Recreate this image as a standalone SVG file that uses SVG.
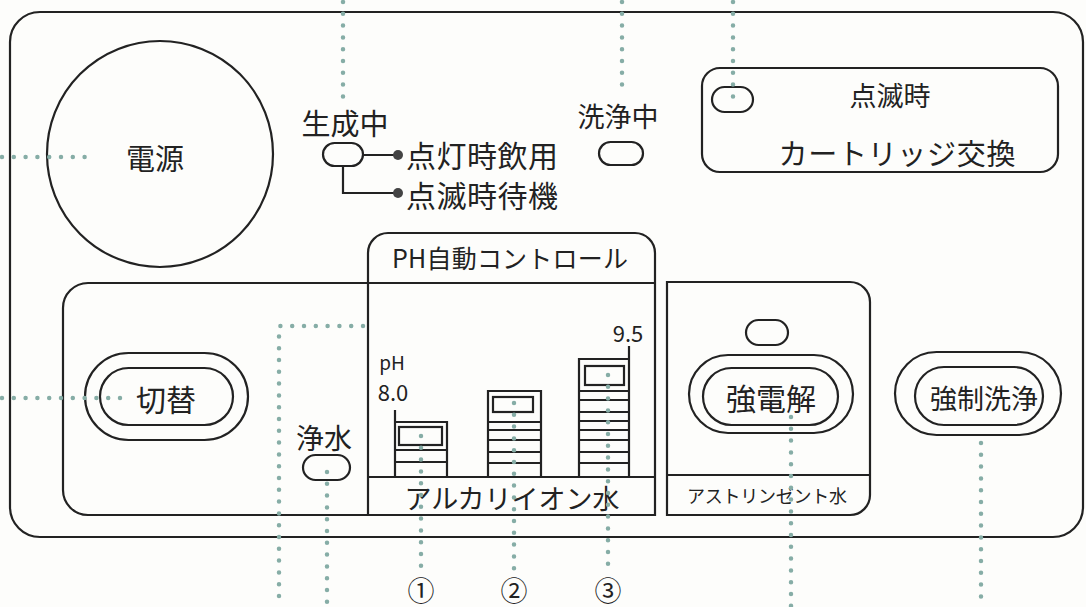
<svg xmlns="http://www.w3.org/2000/svg" width="1086" height="607" viewBox="0 0 1086 607">
<style>
.ln{fill:none;stroke:#222;stroke-width:2.2}
.dot{fill:none;stroke:#86ada6;stroke-width:4.5;stroke-linecap:round;stroke-dasharray:0 11.8}
.t{font-family:"Noto Sans CJK JP","Noto Sans",sans-serif;fill:#222;dominant-baseline:central}
.n{font-family:"Noto Sans CJK JP","Noto Sans",sans-serif;fill:#222;text-anchor:middle;dominant-baseline:central}
</style>
<rect width="1086" height="607" fill="#fdfdfb"/>
<g id="panel">
<rect class="ln" x="10" y="12" width="1073" height="525" rx="30"/>
</g>
<g id="power">
<circle class="ln" cx="160" cy="154" r="113"/>
<text class="n" x="155" y="157" font-size="29">電源</text>
</g>
<g id="seisei">
<text class="n" x="345" y="122" font-size="29">生成中</text>
<rect class="ln" x="323" y="143" width="40" height="23" rx="11.5"/>
<path class="ln" d="M363,155 H397 M343,166 V193 H397" stroke-width="1.6"/>
<circle cx="398" cy="155" r="5" fill="#444"/>
<circle cx="398" cy="193" r="5" fill="#444"/>
<text class="t" x="406" y="154" font-size="30" textLength="152">点灯時飲用</text>
<text class="t" x="406" y="194" font-size="30" textLength="152">点滅時待機</text>
</g>
<g id="senjo">
<text class="n" x="618" y="115" font-size="27">洗浄中</text>
<rect class="ln" x="599" y="142" width="44" height="23" rx="11.5"/>
</g>
<g id="cartridge">
<rect class="ln" x="702" y="68" width="356" height="104" rx="18"/>
<rect class="ln" x="712" y="87" width="41" height="25" rx="12.5"/>
<text class="n" x="890" y="94" font-size="27">点滅時</text>
<text class="n" x="897" y="152" font-size="29" textLength="237">カートリッジ交換</text>
</g>
<g id="inner-panel">
<path class="ln" d="M368,283 H88 A25,25 0 0 0 63,308 V490 A25,25 0 0 0 88,515 H368"/>
</g>
<g id="kirikae">
<rect class="ln" x="85" y="353" width="163" height="87" rx="43.5"/>
<rect class="ln" x="100" y="368" width="133" height="57" rx="28.5"/>
<text class="n" x="166" y="398" font-size="30">切替</text>
</g>
<g id="josui">
<text class="n" x="324" y="437" font-size="28">浄水</text>
<rect class="ln" x="303" y="455" width="47" height="25" rx="12.5"/>
</g>
<g id="ph-control">
<path class="ln" d="M368,515 V253 A20,20 0 0 1 388,233 H635 A20,20 0 0 1 655,253 V515 H368 M368,283 H655 M368,477 H655"/>
<text class="n" x="510" y="257" font-size="25" textLength="236">PH自動コントロール</text>
<text class="n" x="512" y="497" font-size="27" textLength="215">アルカリイオン水</text>
<text class="n" x="392" y="361" font-size="19">pH</text>
<text class="n" x="393" y="391" font-size="22">8.0</text>
<text class="n" x="628" y="332" font-size="22">9.5</text>
</g>
<g id="bar1">
<path class="ln" d="M395,410 V477 M395,422 H447 V477 M395,450 H447 M395,462 H447"/>
<rect class="ln" x="399" y="427" width="43" height="18"/>
</g>
<g id="bar2">
<path class="ln" d="M488,477 V391 H541 V477 M488,422 H541 M488,430 H541 M488,440 H541 M488,452 H541 M488,463 H541"/>
<rect class="ln" x="493" y="397" width="40" height="15"/>
</g>
<g id="bar3">
<path class="ln" d="M579,477 V359 H629 V477 M629,346 V359 M579,391 H629 M579,400 H629 M579,412 H629 M579,421 H629 M579,430 H629 M579,440 H629 M579,452 H629 M579,463 H629"/>
<rect class="ln" x="585" y="366" width="39" height="19"/>
</g>
<g id="astringent">
<path class="ln" d="M667,282 H850 A20,20 0 0 1 870,302 V495 A20,20 0 0 1 850,515 H667 Z M667,475 H870"/>
<rect class="ln" x="746" y="320" width="42" height="25" rx="12.5"/>
<rect class="ln" x="689" y="355" width="164" height="78" rx="39"/>
<rect class="ln" x="703" y="368" width="135" height="57" rx="28.5"/>
<text class="n" x="771" y="397" font-size="30">強電解</text>
<text class="n" x="767" y="495" font-size="18" textLength="160">アストリンゼント水</text>
</g>
<g id="kyosei">
<rect class="ln" x="895" y="352" width="166" height="83" rx="41.5"/>
<rect class="ln" x="915" y="367" width="128" height="58" rx="29"/>
<text class="n" x="984" y="397" font-size="27">強制洗浄</text>
</g>
<g id="numbers">
<text class="n" x="421" y="589" font-size="27">①</text>
<text class="n" x="514" y="589" font-size="27">②</text>
<text class="n" x="608" y="589" font-size="27">③</text>
</g>
<g id="connectors">
<path class="dot" d="M2,157 H87"/>
<path class="dot" d="M343,2 V98"/>
<path class="dot" d="M622,2 V92"/>
<path class="dot" d="M733,2 V97"/>
<path class="dot" d="M2,398 H123"/>
<path class="dot" d="M363,326 H279 V607"/>
<path class="dot" d="M327,472 V607"/>
<path class="dot" d="M421,436 V568"/>
<path class="dot" d="M514,403 V570"/>
<path class="dot" d="M608,375 V565"/>
<path class="dot" d="M791,417 V607"/>
<path class="dot" d="M981,443 V607"/>
</g>
</svg>
